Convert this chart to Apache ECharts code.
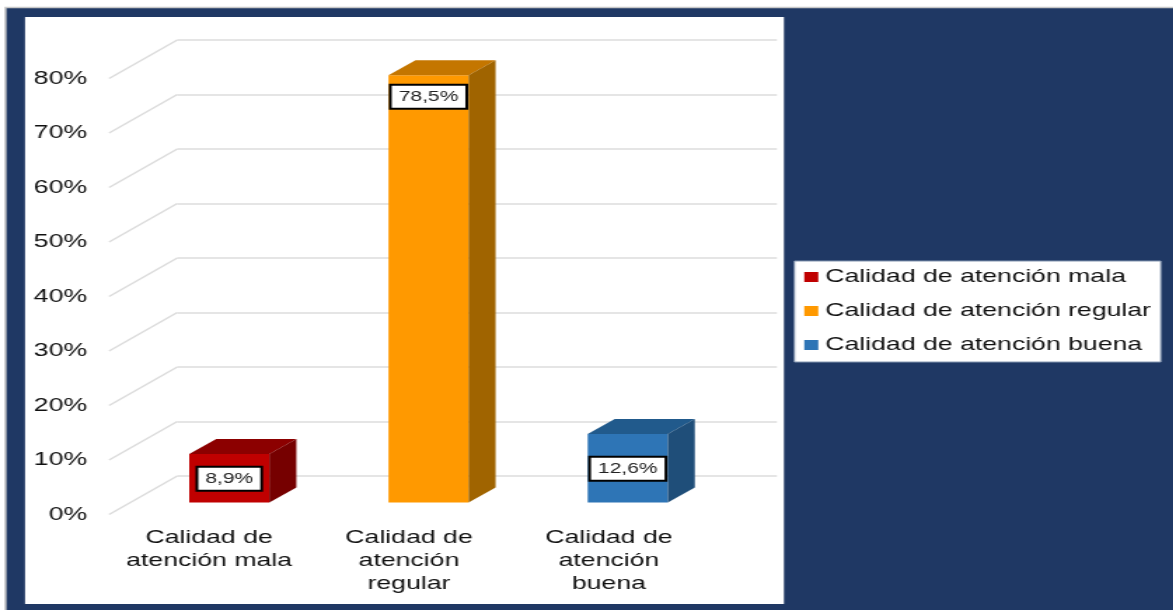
<!DOCTYPE html>
<html><head><meta charset="utf-8">
<style>html,body{margin:0;padding:0;background:#fff;overflow:hidden}
#wrap{width:1173px;height:610px;overflow:hidden}
#c{height:610px;transform-origin:0 0}</style>
<script src="https://cdn.jsdelivr.net/npm/echarts@6/dist/echarts.min.js"></script>
</head><body><div id="wrap"><div id="c"></div></div>
<script>
const categories = ['Calidad de\natención mala', 'Calidad de\natención\nregular', 'Calidad de\natención\nbuena'];
const seriesNames = ['Calidad de atención mala', 'Calidad de atención regular', 'Calidad de atención buena'];
const values = [8.9, 78.5, 12.6];
const yTicks = [0, 10, 20, 30, 40, 50, 60, 70, 80];
const frontColors = ['#c00000', '#ff9900', '#2e75b6'];
const topColors = ['#8c0000', '#c47600', '#215a8c'];
const sideColors = ['#760000', '#a06400', '#1f4e79'];

// The reference picture is stretched sideways, text included.
const STRETCH = 1.4;
const W = 1173 / STRETCH;
const sx = x => x / STRETCH;
const el = document.getElementById('c');
el.style.width = W + 'px';
el.style.transform = 'scaleX(' + STRETCH + ')';
const chart = echarts.init(el, null, {width: W, height: 610});

const FONT = 'Liberation Sans';
const barHalf = sx(40), depthX = sx(27), depthY = 15;

function barSeries(i) {
  return {
    type: 'custom', name: seriesNames[i], xAxisIndex: 2, yAxisIndex: 2, z: 5,
    itemStyle: {color: frontColors[i]},
    encode: {x: 0, y: 1}, clip: false,
    data: [[categories[i], values[i]]],
    renderItem(params, api) {
      const v = api.value(1);
      const c = api.coord([api.value(0), v]);
      const b = api.coord([api.value(0), 0]);
      const x0 = c[0] - barHalf, x1 = c[0] + barHalf, yt = c[1], yb = b[1];
      const labelY = v > 50 ? yt + 21 : (yt + yb) / 2;
      return {type: 'group', children: [
        {type: 'rect', shape: {x: x0, y: yt, width: x1 - x0, height: yb - yt},
          style: {fill: frontColors[i]}},
        {type: 'polygon', shape: {points: [[x0, yt], [x1, yt], [x1 + depthX, yt - depthY], [x0 + depthX, yt - depthY]]},
          style: {fill: topColors[i]}},
        {type: 'polygon', shape: {points: [[x1, yt], [x1 + depthX, yt - depthY], [x1 + depthX, yb - depthY], [x1, yb]]},
          style: {fill: sideColors[i]}},
        {type: 'text', z2: 10, style: {
          text: v.toFixed(1).replace('.', ',') + '%', x: c[0], y: labelY + 0.5,
          align: 'center', verticalAlign: 'middle', fill: '#222',
          font: '15px "' + FONT + '"', backgroundColor: '#fff',
          borderColor: '#000', borderWidth: 2, padding: [4, 5, 3, 5]
        }}
      ]};
    }
  };
}

const diagSeries = {
  type: 'custom', xAxisIndex: 1, yAxisIndex: 1, z: 2, silent: true, clip: false,
  encode: {y: 0},
  data: yTicks.map(v => [v]),
  renderItem(params, api) {
    const x = params.coordSys.x;
    const y = api.coord([0, api.value(0)])[1];
    return {type: 'line', shape: {x1: x, y1: y, x2: x + sx(68), y2: y - 38.5},
      style: {stroke: '#dcdcdc', lineWidth: 1.5}};
  }
};

const hiddenX = i => ({type: 'category', gridIndex: i, data: categories, show: false});
const hiddenY = i => ({type: 'value', gridIndex: i, min: 0, max: 80, interval: 10, show: false});

chart.setOption({
  animation: false,
  graphic: [
    {type: 'rect', z: -10, silent: true, shape: {x: sx(5.5), y: 7.5, width: sx(1173), height: 610},
      style: {fill: '#1f3864', stroke: '#c8c8c8', lineWidth: 1.5}},
    {type: 'rect', z: -9, silent: true, shape: {x: sx(25), y: 17, width: sx(758), height: 587},
      style: {fill: '#fff'}}
  ],
  legend: {
    data: seriesNames, orient: 'vertical', left: sx(793.5), top: 261,
    backgroundColor: '#fff', borderColor: '#8496b0', borderWidth: 1,
    padding: [6, 7, 7, 7], itemGap: 14, itemWidth: sx(14), itemHeight: 10,
    icon: 'rect', selectedMode: false, itemStyle: {borderWidth: 0},
    textStyle: {fontFamily: FONT, fontSize: 19, color: '#111', lineHeight: 20, padding: [0, 0, 0, 0]}
  },
  grid: [
    {left: sx(177), width: sx(599), top: 40, height: 436},
    {left: sx(109), width: sx(599), top: 78.5, height: 436},
    {left: sx(129.5), width: sx(597), top: 67, height: 435.5}
  ],
  xAxis: [
    hiddenX(0),
    {type: 'category', gridIndex: 1, data: categories,
      axisLine: {show: false}, axisTick: {show: false},
      axisLabel: {fontFamily: FONT, fontSize: 19, color: '#111', lineHeight: 23, margin: 12, interval: 0}},
    hiddenX(2)
  ],
  yAxis: [
    {type: 'value', gridIndex: 0, min: 0, max: 80, interval: 10,
      axisLine: {show: false}, axisTick: {show: false}, axisLabel: {show: false},
      splitLine: {show: true, lineStyle: {color: '#dcdcdc', width: 1.5}}},
    {type: 'value', gridIndex: 1, min: 0, max: 80, interval: 10,
      axisLine: {show: false}, axisTick: {show: false}, splitLine: {show: false},
      axisLabel: {fontFamily: FONT, fontSize: 19, color: '#111', margin: sx(22), formatter: '{value}%'}},
    hiddenY(2)
  ],
  series: [diagSeries, barSeries(0), barSeries(1), barSeries(2)]
});
</script></body></html>
